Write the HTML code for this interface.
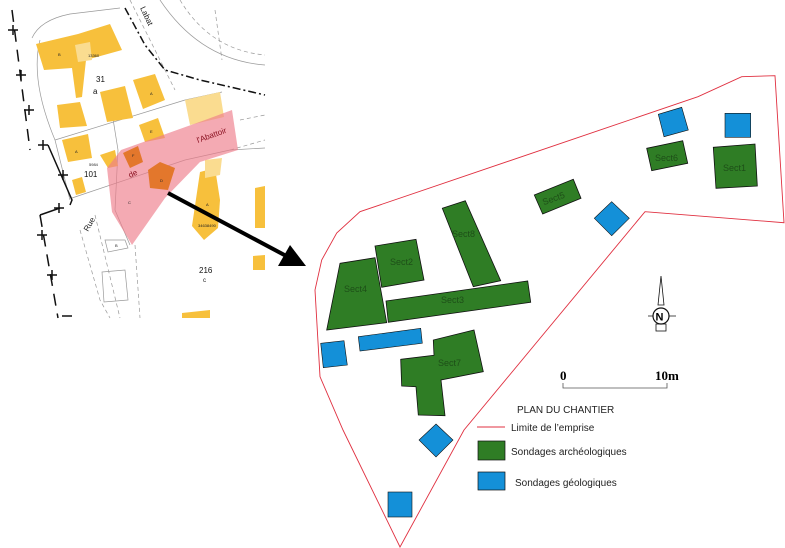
<!DOCTYPE html>
<html><head><meta charset="utf-8"><style>
html,body{margin:0;padding:0;background:#fff;}
svg{display:block;}
text{font-family:"Liberation Sans",sans-serif;}
</style></head><body>
<svg width="785" height="548" viewBox="0 0 785 548" xmlns="http://www.w3.org/2000/svg">
<g fill="none" stroke="#999" stroke-width="0.7">
<path d="M32,38 Q40,20 70,14 L120,8"/>
<path d="M40,40 Q30,80 55,140 L70,200"/>
<path d="M55,140 L185,100 L222,92"/>
<path d="M72,198 L185,160 L230,150 L265,148"/>
<path d="M110,100 L118,150 L115,210 L130,245"/>
<path d="M130,0 L175,90" stroke-dasharray="4,3"/>
<path d="M160,0 Q200,60 265,65" />
<path d="M180,0 Q210,50 265,55" stroke-dasharray="4,3"/>
<path d="M230,150 L265,140" stroke-dasharray="4,3"/>
<path d="M80,230 L100,300 L110,318" stroke-dasharray="4,3"/>
<path d="M95,215 L120,318" stroke-dasharray="4,3"/>
<path d="M135,245 L140,318" stroke-dasharray="4,3"/>
<path d="M105,240 L125,240 L128,248 L108,252Z"/>
<path d="M102,272 L125,270 L128,300 L104,302Z"/>
<path d="M215,10 L222,60" stroke-dasharray="4,3"/>
<path d="M240,120 L265,115" stroke-dasharray="4,3"/>
</g>
<path d="M125,8 L145,45 L165,70 L200,80 L265,95" fill="none" stroke="#111" stroke-width="1.5" stroke-dasharray="8,3,2,3"/>
<g stroke="#111" stroke-width="1.5" fill="none">
<path d="M12,10 L30,150" stroke-dasharray="12,8"/>
<path d="M48,145 L72,200 L70,205" />
<path d="M40,215 L58,318" stroke-dasharray="12,8"/>
<path d="M40,215 L60,208"/>
<path d="M8,30h10M13,25v10 M16,75h10M21,70v10 M24,110h10M29,105v10 M38,145h10M43,140v10 M58,175h10M63,170v10 M54,208h10M59,203v10 M37,235h10M42,230v10 M47,275h10M52,270v10 M62,316h10"/>
</g>
<g fill="#f7c03c">
<polygon points="36,44 78,34 110,24 122,50 86,60 82,97 76,98 72,68 44,70"/>
<polygon points="100,92 125,86 133,118 107,122"/>
<polygon points="133,80 155,74 165,100 143,109"/>
<polygon points="57,105 80,102 87,126 60,128"/>
<polygon points="62,140 88,134 92,158 68,162"/>
<polygon points="72,180 82,177 86,192 76,195"/>
<polygon points="139,125 158,118 165,138 145,142"/>
<polygon points="100,155 115,150 118,166 108,168"/>
<polygon points="200,172 215,168 220,200 218,228 204,240 192,226"/>
<polygon points="255,188 265,186 265,228 255,228"/>
<polygon points="253,256 265,255 265,270 253,270"/>
<polygon points="182,313 210,310 210,318 182,318"/>
</g>
<g fill="#fadc90">
<polygon points="185,100 220,92 224,117 190,125"/>
<polygon points="75,45 90,42 92,60 78,62"/>
<polygon points="205,160 222,158 220,175 205,178"/>
</g>
<polygon points="107,168 121,150 205,120 232,110 238,150 200,162 165,198 132,245 112,212" fill="#ee7d8a" fill-opacity="0.65"/>
<g fill="#e3772c">
<polygon points="123,153 138,146 143,162 130,168"/>
<polygon points="148,170 160,162 175,168 168,190 150,188"/>
</g>
<g font-size="4" fill="#222"><text x="58" y="56">B</text><text x="88" y="57">13360</text><text x="150" y="95">A</text><text x="75" y="153">A</text><text x="150" y="133">E</text><text x="132" y="157">F</text><text x="160" y="182">D</text><text x="128" y="204">C</text><text x="115" y="247">B</text><text x="206" y="206">A</text><text x="198" y="227">34638490</text><text x="89" y="166">5984</text></g>
<g font-size="8" fill="#111"><text x="96" y="82">31</text><text x="93" y="94">a</text><text x="84" y="177">101</text><text x="199" y="273">216</text><text x="203" y="282" font-size="6">c</text></g>
<text x="0" y="0" font-size="8" fill="#222" transform="translate(140,8) rotate(65)">Labat</text>
<text x="0" y="0" font-size="8" fill="#222" transform="translate(88,232) rotate(-60)">Rue</text>
<text x="0" y="0" font-size="8" fill="#8a1020" transform="translate(130,178) rotate(-25)">de</text>
<text x="0" y="0" font-size="8" fill="#8a1020" transform="translate(198,143) rotate(-20)">l'Abattoir</text>
<line x1="168" y1="193" x2="290" y2="258" stroke="#000" stroke-width="4"/>
<polygon points="306,266 278,266 290,245" fill="#000"/>
<polygon points="741.7,76.7 775,75.7 784,222.7 645,211.7 464,430 400,547 343,430 320,376.7 315,290 321.7,260 336.7,233 360,211.7 698,96.7" fill="none" stroke="#e03040" stroke-width="0.9"/>
<g fill="#2f7d25" stroke="#111" stroke-width="0.8">
<polygon points="713.3,147.3 755,144 757.3,186 716,188.3"/>
<polygon points="646.7,148.3 682.7,140.7 687.7,163.3 651.7,170.7"/>
<polygon points="534.3,195 573.3,179.3 581,198.3 542.7,214"/>
<polygon points="442.3,208.3 465.3,200.7 500.7,280.7 473.3,286.7"/>
<polygon points="375,246 416,239.3 424,280 381.7,287.3"/>
<polygon points="340,263.3 375,257.7 386.7,322.7 326.7,330"/>
<polygon points="386,301 527.7,281 530.7,302.3 388.3,322.3"/>
<polygon points="400.7,359.3 434,355.3 433.3,340 474,330 483.3,371.7 441,380 445,415.7 418.3,415 416,386.7 401.7,386"/>
</g>
<g font-size="9" fill="#1e4f18">
<text x="723" y="171">Sect1</text><text x="655" y="161">Sect6</text><text x="542" y="201" transform="rotate(-20 555 198)">Sect5</text><text x="452" y="237">Sect8</text><text x="390" y="265">Sect2</text><text x="344" y="292">Sect4</text><text x="441" y="303">Sect3</text><text x="438" y="366">Sect7</text>
</g>
<g fill="#1490d8" stroke="#111" stroke-width="0.6">
<polygon points="658.3,114.3 681.7,107.3 688.3,130 664,136.7"/>
<rect x="725" y="113.3" width="25.7" height="24"/>
<polygon points="611.7,201.7 629.3,218.3 611.7,235.7 594.3,218.3"/>
<polygon points="358.3,336.7 420.7,328.3 422.3,343.3 360,351"/>
<polygon points="320.7,343.3 344,340.7 347.3,365 323.3,367.7"/>
<polygon points="436,424 453,440 436,457 419,440"/>
<rect x="388" y="492" width="24" height="25"/>
</g>
<polygon points="661,276 664,305 658,305" fill="#fff" stroke="#111" stroke-width="0.8"/>
<line x1="648" y1="316" x2="676" y2="316" stroke="#111" stroke-width="0.8"/>
<rect x="656" y="324" width="10" height="7" fill="#fff" stroke="#111" stroke-width="0.8"/>
<circle cx="661" cy="316" r="8" fill="#fff" stroke="#111" stroke-width="1.2"/>
<text x="655.5" y="320.5" font-size="11" font-weight="bold" fill="#000">N</text>
<text x="560" y="380" font-size="13" font-weight="bold" style="font-family:'Liberation Serif',serif">0</text>
<text x="655" y="380" font-size="13" font-weight="bold" style="font-family:'Liberation Serif',serif">10m</text>
<path d="M563,383 V388 H667 V383" fill="none" stroke="#555" stroke-width="0.8"/>
<text x="517" y="413" font-size="10" fill="#222">PLAN DU  CHANTIER</text>
<line x1="477" y1="427" x2="505" y2="427" stroke="#e03040" stroke-width="1"/>
<text x="511" y="431" font-size="10" fill="#222">Limite de l’emprise</text>
<rect x="478" y="441" width="27" height="19" fill="#2f7d25" stroke="#111" stroke-width="0.7"/>
<text x="511" y="455" font-size="10" fill="#222">Sondages archéologiques</text>
<rect x="478" y="472" width="27" height="18" fill="#1490d8" stroke="#111" stroke-width="0.7"/>
<text x="515" y="486" font-size="10" fill="#222">Sondages géologiques</text>
</svg>
</body></html>
